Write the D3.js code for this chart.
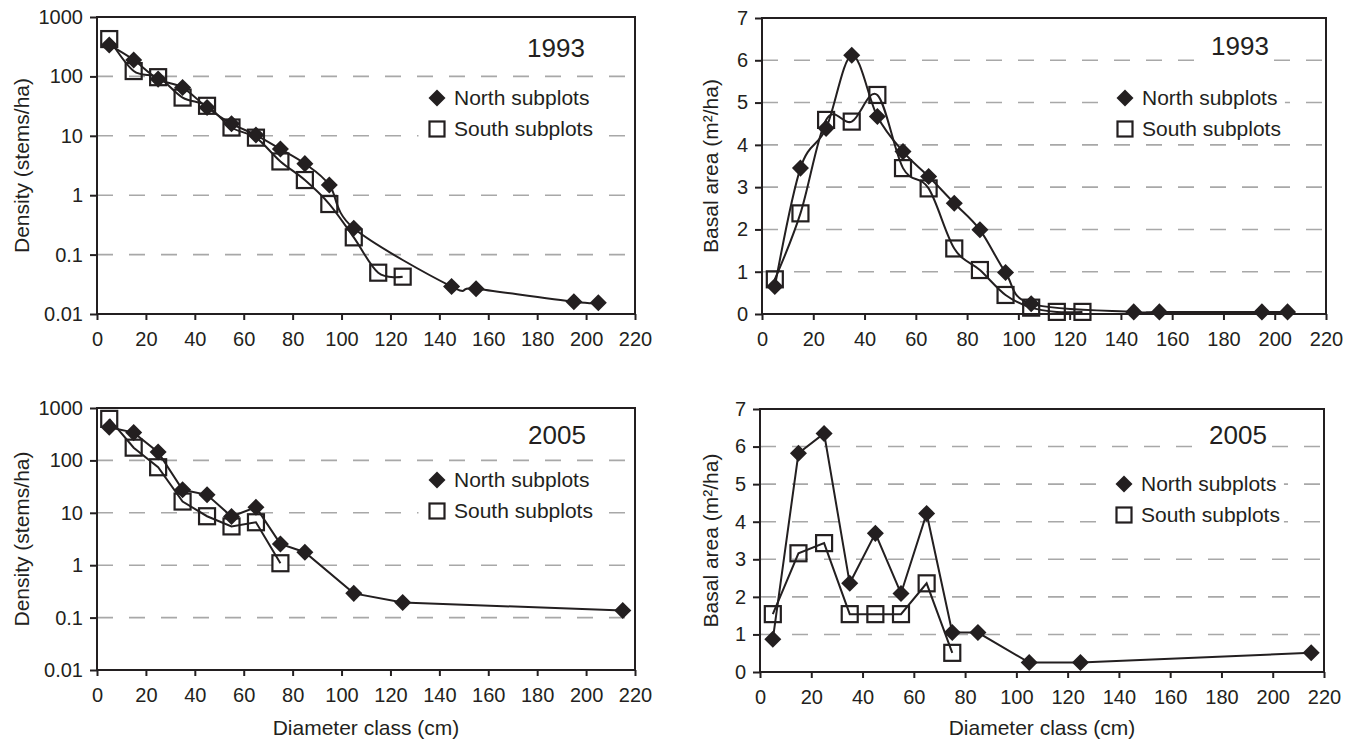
<!DOCTYPE html>
<html>
<head>
<meta charset="utf-8">
<script src="https://cdnjs.cloudflare.com/ajax/libs/d3/7.8.5/d3.min.js"></script>
<style>
  body { margin: 0; background: #fff; }
  text { font-family: "Liberation Sans", Arial, sans-serif; fill: #231f20; }
</style>
</head>
<body>
<svg></svg>
<script>
// --- data ---
const classes93North = [5, 15, 25, 35, 45, 55, 65, 75, 85, 95, 105, 145, 155, 195, 205];
const density93North = [338, 189, 90, 65, 30, 16, 10.3, 6.0, 3.4, 1.49, 0.277, 0.029, 0.0267, 0.0161, 0.0155];
const basal93North = [0.65, 3.45, 4.39, 6.12, 4.67, 3.84, 3.25, 2.62, 1.99, 0.98, 0.24, 0.05, 0.05, 0.05, 0.05];

const classes93South = [5, 15, 25, 35, 45, 55, 65, 75, 85, 95, 105, 115, 125];
const density93South = [425, 123, 97, 44, 32, 13.8, 9.3, 3.7, 1.8, 0.71, 0.195, 0.0496, 0.0425];
const basal93South = [0.82, 2.38, 4.59, 4.55, 5.18, 3.45, 2.97, 1.55, 1.04, 0.45, 0.15, 0.05, 0.05];

const classes05North = [5, 15, 25, 35, 45, 55, 65, 75, 85, 105, 125, 215];
const density05North = [428, 339, 144, 27.5, 22, 8.5, 12.8, 2.55, 1.77, 0.29, 0.195, 0.136];
const basal05North = [0.87, 5.82, 6.35, 2.36, 3.69, 2.09, 4.22, 1.05, 1.05, 0.25, 0.25, 0.51];

const classes05South = [5, 15, 25, 35, 45, 55, 65, 75];
const density05South = [620, 175, 74, 16.4, 8.6, 5.5, 6.6, 1.09];
const basal05South = [1.54, 3.16, 3.43, 1.54, 1.54, 1.54, 2.36, 0.51];

const xTicks = [0, 20, 40, 60, 80, 100, 120, 140, 160, 180, 200, 220];
const logTicks = [0.01, 0.1, 1, 10, 100, 1000];
const logTickLabels = ['0.01', '0.1', '1', '10', '100', '1000'];
const basalTicks = [0, 1, 2, 3, 4, 5, 6, 7];
const basalTickLabels = ['0', '1', '2', '3', '4', '5', '6', '7'];

const seriesNames = ['North subplots', 'South subplots'];
const ink = '#231f20';

const svg = d3.select('svg')
    .attr('width', 1352)
    .attr('height', 745);

const panels = [
  { left: 97, right: 635, top: 17, bottom: 314, kind: 'density', year: '1993', smooth: true,
    north: [classes93North, density93North], south: [classes93South, density93South],
    yearX: 556, yearY: 57, legX: 437, legY: 98, titleX: 22, xTitle: false },
  { left: 762, right: 1326, top: 18, bottom: 314, kind: 'basal', year: '1993', smooth: true,
    north: [classes93North, basal93North], south: [classes93South, basal93South],
    yearX: 1240, yearY: 55, legX: 1125, legY: 98, titleX: 711, xTitle: false },
  { left: 97, right: 635, top: 408, bottom: 670, kind: 'density', year: '2005', smooth: false,
    north: [classes05North, density05North], south: [classes05South, density05South],
    yearX: 557, yearY: 444, legX: 437, legY: 480, titleX: 22, xTitle: true },
  { left: 760, right: 1324, top: 409, bottom: 672, kind: 'basal', year: '2005', smooth: false,
    north: [classes05North, basal05North], south: [classes05South, basal05South],
    yearX: 1238, yearY: 444, legX: 1124, legY: 484, titleX: 711, xTitle: true }
];

// diamond = square symbol turned 45 degrees
const diamond = d3.symbol().type(d3.symbolSquare).size(145);

function drawPanel(p) {
  const x = d3.scaleLinear().domain([0, 220]).range([p.left, p.right]);
  const y = p.kind === 'density'
    ? d3.scaleLog().domain([0.01, 1000]).range([p.bottom, p.top])
    : d3.scaleLinear().domain([0, 7]).range([p.bottom, p.top]);
  const yTicks = p.kind === 'density' ? logTicks : basalTicks;
  const yLabels = p.kind === 'density' ? logTickLabels : basalTickLabels;

  const g = svg.append('g');

  // dashed grid
  g.selectAll('line.grid')
    .data(yTicks.slice(1, -1))
    .join('line')
      .attr('class', 'grid')
      .attr('x1', p.left)
      .attr('x2', p.right)
      .attr('y1', d => y(d))
      .attr('y2', d => y(d))
      .attr('stroke', '#a8a8a8')
      .attr('stroke-width', 1.6)
      .attr('stroke-dasharray', '16,16');

  // year label with white background
  const yearText = g.append('text')
      .attr('x', p.yearX)
      .attr('y', p.yearY)
      .attr('text-anchor', 'middle')
      .style('font-size', '26px')
      .text(p.year);
  const yb = yearText.node().getBBox();
  g.insert('rect', 'text')
      .attr('x', yb.x - 2).attr('y', yb.y)
      .attr('width', yb.width + 4).attr('height', yb.height)
      .attr('fill', '#fff');

  // legend
  const leg = g.append('g');
  leg.append('path')
      .attr('d', diamond)
      .attr('transform', `translate(${p.legX},${p.legY}) rotate(45)`)
      .attr('fill', ink);
  leg.append('rect')
      .attr('x', p.legX - 7.5).attr('y', p.legY + 31 - 7.5)
      .attr('width', 15).attr('height', 15)
      .attr('fill', 'none').attr('stroke', ink).attr('stroke-width', 2.2);
  leg.selectAll('text')
    .data(seriesNames)
    .join('text')
      .attr('x', p.legX + 17)
      .attr('y', (d, i) => p.legY + 7 + i * 31)
      .style('font-size', '21px')
      .text(d => d);
  const lb = leg.node().getBBox();
  leg.insert('rect', ':first-child')
      .attr('x', lb.x - 10).attr('y', lb.y - 4)
      .attr('width', lb.width + 14).attr('height', lb.height + 8)
      .attr('fill', '#fff');

  // axes
  const xAxis = g.append('g')
      .attr('transform', `translate(0,${p.bottom})`)
      .call(d3.axisBottom(x).tickValues(xTicks).tickSizeInner(6).tickSizeOuter(0).tickPadding(12));
  const yAxis = g.append('g')
      .attr('transform', `translate(${p.left},0)`)
      .call(d3.axisLeft(y).tickValues(yTicks).tickSizeInner(7).tickSizeOuter(0).tickPadding(7)
        .tickFormat((d, i) => yLabels[i]));
  [xAxis, yAxis].forEach(a => {
    a.select('.domain').remove();
    a.selectAll('.tick line').attr('stroke', ink).attr('stroke-width', 2);
    a.selectAll('.tick text').style('font-size', '20px').attr('fill', ink);
  });

  // frame
  g.append('rect')
      .attr('x', p.left).attr('y', p.top)
      .attr('width', p.right - p.left).attr('height', p.bottom - p.top)
      .attr('fill', 'none').attr('stroke', ink).attr('stroke-width', 2);

  // axis titles
  g.append('text')
      .attr('transform', `translate(${p.titleX},${(p.top + p.bottom) / 2}) rotate(-90)`)
      .attr('text-anchor', 'middle')
      .attr('dy', '0.35em')
      .style('font-size', '21px')
      .text(p.kind === 'density' ? 'Density (stems/ha)' : 'Basal area (m\u00b2/ha)');
  if (p.xTitle) {
    g.append('text')
        .attr('x', (p.left + p.right) / 2)
        .attr('y', 735)
        .attr('text-anchor', 'middle')
        .style('font-size', '21px')
        .text('Diameter class (cm)');
  }

  // lines
  const line = d3.line()
      .x(d => x(d[0]))
      .y(d => y(d[1]))
      .curve(p.smooth ? d3.curveCardinal.tension(0) : d3.curveLinear);
  const northPts = d3.zip(p.north[0], p.north[1]);
  const southPts = d3.zip(p.south[0], p.south[1]);
  [northPts, southPts].forEach(pts => {
    g.append('path')
        .datum(pts)
        .attr('d', line)
        .attr('fill', 'none')
        .attr('stroke', ink)
        .attr('stroke-width', 2);
  });

  // markers
  g.selectAll('rect.south')
    .data(southPts)
    .join('rect')
      .attr('class', 'south')
      .attr('x', d => x(d[0]) - 8)
      .attr('y', d => y(d[1]) - 8)
      .attr('width', 16).attr('height', 16)
      .attr('fill', 'none').attr('stroke', ink).attr('stroke-width', 2.2);
  g.selectAll('path.north')
    .data(northPts)
    .join('path')
      .attr('class', 'north')
      .attr('d', diamond)
      .attr('transform', d => `translate(${x(d[0])},${y(d[1])}) rotate(45)`)
      .attr('fill', ink);
}

panels.forEach(drawPanel);
</script>
</body>
</html>
